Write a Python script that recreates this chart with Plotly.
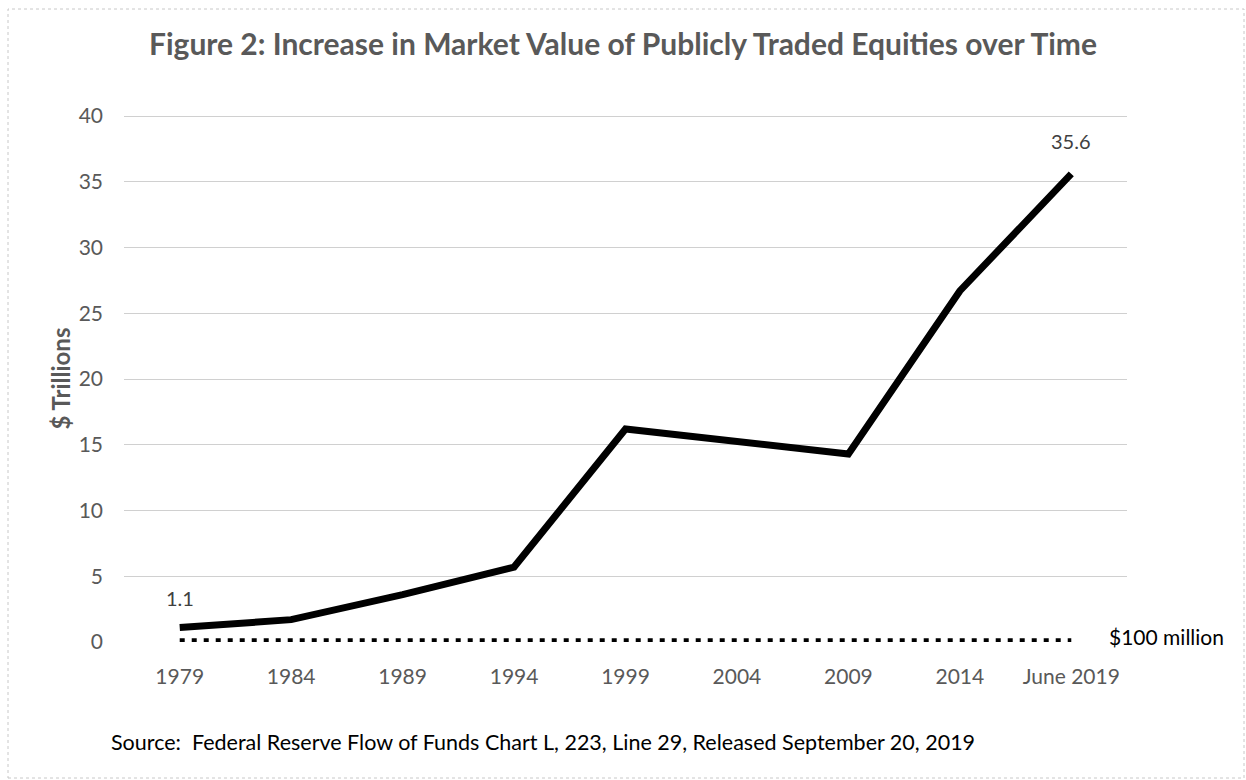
import plotly.graph_objects as go

categories = ["1979", "1984", "1989", "1994", "1999", "2004", "2009", "2014", "June 2019"]
market_value = [1.1, 1.7, 3.6, 5.7, 16.2, 15.3, 14.3, 26.7, 35.6]
baseline_value = [0.1] * len(categories)
y_ticks = [0, 5, 10, 15, 20, 25, 30, 35, 40]

FONT = "Lato, Liberation Sans, sans-serif"
GRAY = "#595959"

fig = go.Figure()
fig.add_trace(go.Scatter(
    x=categories, y=baseline_value, mode="lines",
    line=dict(color="black", width=5, dash="5px,7px"),
    hoverinfo="skip", showlegend=False,
))
fig.add_trace(go.Scatter(
    x=categories, y=market_value, mode="lines",
    line=dict(color="black", width=7),
    showlegend=False,
))

first_idx = 0
last_idx = len(categories) - 1
fig.add_annotation(x=first_idx, y=market_value[first_idx], text=f"{market_value[first_idx]}",
                   showarrow=False, yshift=30, font=dict(family=FONT, size=20, color="#404040"))
fig.add_annotation(x=last_idx, y=market_value[last_idx], text=f"{market_value[last_idx]}",
                   showarrow=False, yshift=33, font=dict(family=FONT, size=20, color="#404040"))
fig.add_annotation(x=last_idx, y=baseline_value[last_idx], text="$100 million",
                   showarrow=False, xanchor="left", xshift=36, yshift=4,
                   font=dict(family=FONT, size=21, color="black"))

fig.add_annotation(xref="paper", yref="paper", x=-0.015, y=-0.19, xanchor="left", yanchor="middle",
                   text="Source:  Federal Reserve Flow of Funds Chart L, 223, Line 29, Released September 20, 2019",
                   showarrow=False, font=dict(family=FONT, size=21.5, color="black"))

fig.add_shape(type="rect", xref="paper", yref="paper",
              x0=-116 / 1003, x1=1 + 117 / 1003, y0=-136 / 527, y1=1 + 106 / 527,
              line=dict(color="#c8c8c8", width=1, dash="dot"))

fig.update_layout(
    width=1246, height=780,
    margin=dict(l=124, r=119, t=115, b=138),
    paper_bgcolor="white", plot_bgcolor="white",
    title=dict(text="<b>Figure 2: Increase in Market Value of Publicly Traded Equities over Time</b>",
               x=0.5, xanchor="center", y=0.943, yanchor="middle",
               font=dict(family=FONT, size=30, color=GRAY)),
    xaxis=dict(type="category", range=[-0.5, 8.5], showgrid=False, showline=False,
               ticks="", ticklabelstandoff=20,
               tickfont=dict(family=FONT, size=21, color=GRAY), zeroline=False),
    yaxis=dict(range=[0, 40.08], tickvals=y_ticks, showgrid=True, gridcolor="#d0d0d0", gridwidth=1,
               zeroline=False, showline=False, ticks="", ticklabelstandoff=20,
               tickfont=dict(family=FONT, size=21, color=GRAY),
               title=dict(text="<b>$ Trillions</b>", standoff=1, font=dict(family=FONT, size=24, color=GRAY))),
)

fig.write_html("out.html")
